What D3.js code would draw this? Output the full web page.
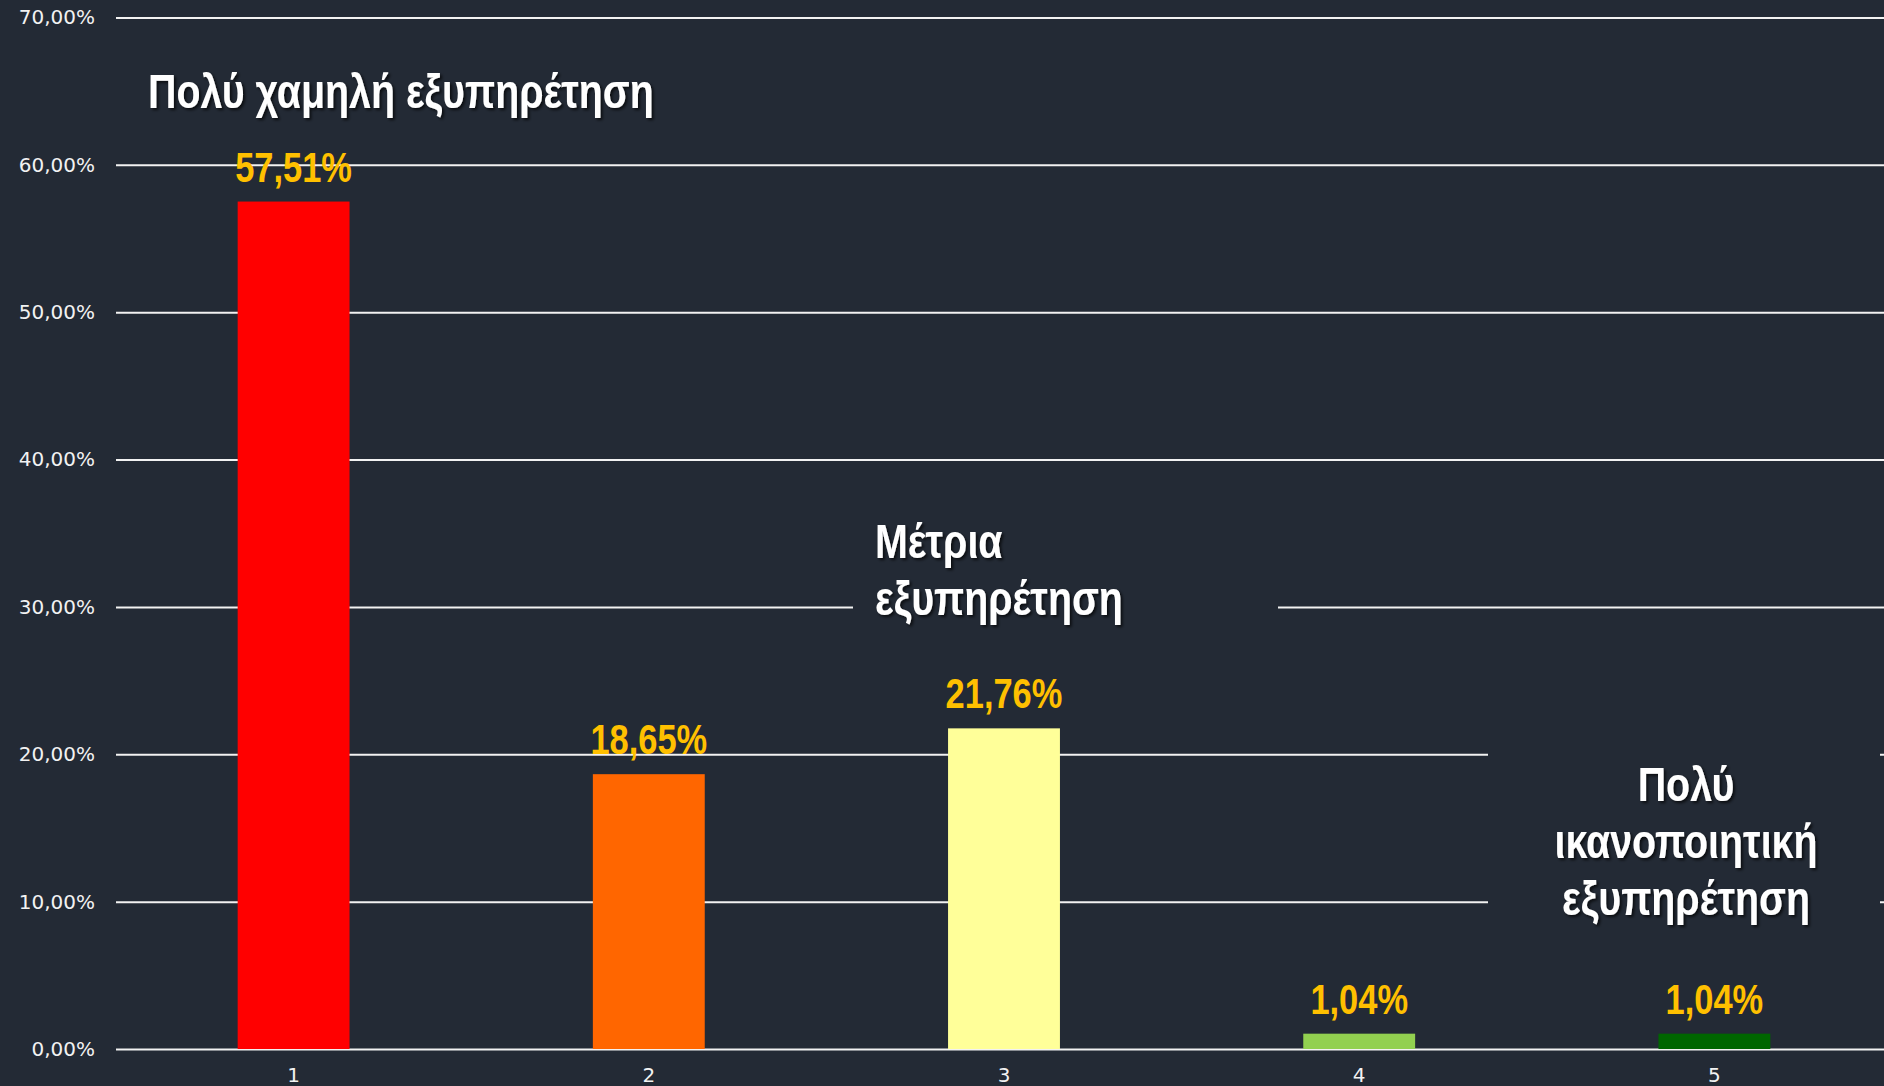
<!DOCTYPE html>
<html lang="el">
<head>
<meta charset="UTF-8">
<title>Εξυπηρέτηση</title>
<style>
  html, body { margin: 0; padding: 0; background: #232a35; overflow: hidden; }
  svg { display: block; }
</style>
</head>
<body>
<svg id="chart" width="1884" height="1086"></svg>
<script src="https://cdnjs.cloudflare.com/ajax/libs/d3/7.8.5/d3.min.js"></script>
<script>
// data
const categories = ["1", "2", "3", "4", "5"];
const values = [0.5751, 0.1865, 0.2176, 0.0104, 0.0104];
const barColors = ["#ff0000", "#ff6600", "#ffff99", "#92d050", "#006600"];
const yTicks = [0, 0.1, 0.2, 0.3, 0.4, 0.5, 0.6, 0.7];
const annotations = [
  { lines: ["Πολύ χαμηλή εξυπηρέτηση"], x: 148, y: 108, anchor: "start", box: null },
  { lines: ["Μέτρια", "εξυπηρέτηση"], x: 875, y: 558, anchor: "start", box: [853, 505, 425, 130] },
  { lines: ["Πολύ", "ικανοποιητική", "εξυπηρέτηση"], x: 1686, y: 801, anchor: "middle", box: [1488, 740, 392, 195] }
];

const W = 1884, H = 1086;
const plotLeft = 116, plotRight = 1892, plotTop = 17.5, plotBottom = 1049;
const narrow = 0.82; // no Arial Narrow here, so squeeze Liberation Sans

const svg = d3.select("#chart");
const bg = "#232a35";

const defs = svg.append("defs");
const f = defs.append("filter").attr("id", "shadow")
  .attr("x", "-10%").attr("y", "-20%").attr("width", "130%").attr("height", "150%");
f.append("feDropShadow").attr("dx", 2).attr("dy", 2).attr("stdDeviation", 1.5)
  .attr("flood-color", "#000").attr("flood-opacity", 0.7);

svg.append("rect").attr("width", W).attr("height", H).attr("fill", bg);

const x = d3.scaleBand().domain(categories).range([plotLeft, plotRight]).paddingInner(0.685).paddingOuter(0.3425);
const y = d3.scaleLinear().domain([0, 0.7]).range([plotBottom, plotTop]);

const pct = d => d3.format(".2f")(d * 100).replace(".", ",") + "%";

// y axis + gridlines
const yAxis = svg.append("g")
  .attr("transform", "translate(" + plotLeft + ",0)")
  .call(d3.axisLeft(y).tickValues(yTicks).tickFormat(pct)
    .tickSizeInner(-(plotRight - plotLeft)).tickSizeOuter(0).tickPadding(21));
yAxis.select(".domain").remove();
yAxis.selectAll(".tick line").attr("stroke", "#f2f2f2").attr("stroke-width", 2);
yAxis.selectAll(".tick text")
  .attr("fill", "#f2f2f2")
  .style("font-family", "'DejaVu Sans', sans-serif")
  .style("font-size", "20px");

// x axis labels
const xAxis = svg.append("g")
  .attr("transform", "translate(0," + plotBottom + ")")
  .call(d3.axisBottom(x).tickSize(0).tickPadding(19));
xAxis.select(".domain").remove();
xAxis.selectAll(".tick text")
  .attr("fill", "#f2f2f2")
  .style("font-family", "'DejaVu Sans', sans-serif")
  .style("font-size", "20px");

// bars
svg.append("g").selectAll("rect")
  .data(values).enter()
  .append("rect")
  .attr("x", (d, i) => x(categories[i]))
  .attr("y", d => y(d))
  .attr("width", x.bandwidth())
  .attr("height", d => plotBottom - y(d))
  .attr("fill", (d, i) => barColors[i]);

// value labels
svg.append("g").selectAll("text")
  .data(values).enter()
  .append("text")
  .attr("transform", (d, i) => "translate(" + (x(categories[i]) + x.bandwidth() / 2) + "," + (y(d) - 20) + ") scale(" + narrow + ",1)")
  .attr("text-anchor", "middle")
  .attr("fill", "#ffc000")
  .style("font-family", "'Liberation Sans', Arial, sans-serif")
  .style("font-weight", "bold")
  .style("font-size", "42px")
  .text(d => pct(d));

// annotation boxes
annotations.forEach(a => {
  if (a.box) {
    svg.append("rect")
      .attr("x", a.box[0]).attr("y", a.box[1])
      .attr("width", a.box[2]).attr("height", a.box[3])
      .attr("fill", bg);
  }
  const g = svg.append("g").attr("filter", "url(#shadow)");
  const t = g.append("text")
    .attr("transform", "translate(" + a.x + "," + a.y + ") scale(" + narrow + ",1)")
    .attr("text-anchor", a.anchor)
    .attr("fill", "#ffffff")
    .style("font-family", "'Liberation Sans', Arial, sans-serif")
    .style("font-weight", "bold")
    .style("font-size", "48px");
  a.lines.forEach((l, i) => {
    t.append("tspan").attr("x", 0).attr("dy", i === 0 ? 0 : 57).text(l);
  });
});
</script>
</body>
</html>
